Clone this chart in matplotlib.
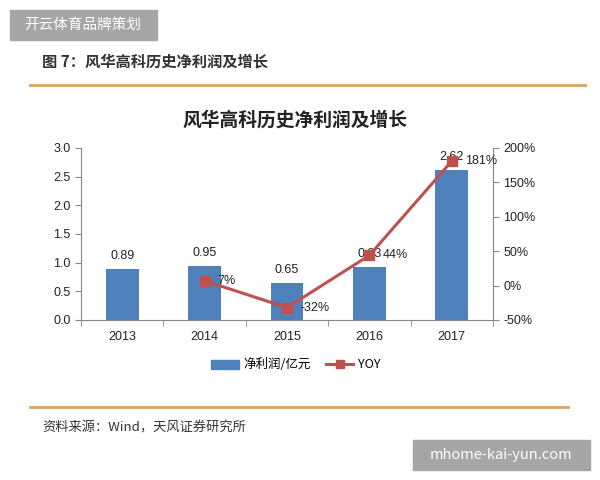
import numpy as np
import matplotlib
matplotlib.use("Agg")
import matplotlib.pyplot as plt
from matplotlib.patches import Rectangle
from matplotlib.lines import Line2D
from matplotlib.ticker import FuncFormatter

plt.rcParams['font.family'] = ['Noto Sans CJK SC', 'DejaVu Sans']

# 数据
years = ["2013", "2014", "2015", "2016", "2017"]
profit = [0.89, 0.95, 0.65, 0.93, 2.62]
yoy_years = ["2014", "2015", "2016", "2017"]
yoy = [7, -32, 44, 181]
yoy_labels = ["7%", "-32%", "44%", "181%"]

BAR = "#4F81BD"
LINE = "#C0504D"
ORANGE = "#D9A45F"
SPINE = "#868686"
TXT = "#222222"

fig = plt.figure(figsize=(6, 4.8), dpi=100)
fig.patch.set_facecolor("white")

# 顶部水印
fig.patches.append(Rectangle((10 / 600, 1 - 40 / 480), 147 / 600, 30 / 480,
                             transform=fig.transFigure, color="#A6A6A6", zorder=0))
fig.text(83 / 600, 1 - 25 / 480, "开云体育品牌策划", color="white", fontsize=10.5,
         ha="center", va="center")

# 标题和分割线
fig.text(42 / 600, 1 - 62 / 480, "图 7：风华高科历史净利润及增长", fontsize=11,
         fontweight="bold", color="#333333", va="center")
fig.add_artist(Line2D([30 / 600, 585 / 600], [1 - 85 / 480, 1 - 85 / 480],
                      transform=fig.transFigure, color=ORANGE, lw=2))
fig.add_artist(Line2D([30 / 600, 568 / 600], [1 - 407 / 480, 1 - 407 / 480],
                      transform=fig.transFigure, color=ORANGE, lw=2))
fig.text(42 / 600, 1 - 428 / 480, "资料来源：Wind，天风证券研究所", fontsize=9.5,
         color="#333333", va="center")

# 底部水印
fig.patches.append(Rectangle((413 / 600, 1 - 470 / 480), 177 / 600, 30 / 480,
                             transform=fig.transFigure, color="#A6A6A6", zorder=0))
fig.text(501 / 600, 1 - 455 / 480, "mhome-kai-yun.com", color="white", fontsize=10.5,
         ha="center", va="center")

# 图表
ax = fig.add_axes([81 / 600, 1 - 320 / 480, 412 / 600, 172 / 480])
x = np.arange(len(years))
ax.bar(x, profit, width=0.4, color=BAR, zorder=2)
for xi, v in zip(x, profit):
    ax.text(xi, v + 0.12, f"{v:.2f}", ha="center", va="bottom", fontsize=9, color=TXT,
            family="Liberation Sans", zorder=5)

ax.set_xlim(-0.5, len(years) - 0.5)
ax.set_ylim(0, 3.0)
ax.set_yticks(np.arange(0, 3.01, 0.5))
ax.yaxis.set_major_formatter(FuncFormatter(lambda v, p: f"{v:.1f}"))
ax.set_xticks(x)
ax.set_xticklabels(years)
ax.set_xticks(np.arange(-0.5, len(years), 1), minor=True)
ax.tick_params(axis="x", which="major", length=0, pad=8)
ax.tick_params(axis="x", which="minor", length=4, color=SPINE, direction="out")
ax.tick_params(axis="y", length=4, color=SPINE, direction="out")
for s in ["top", "right"]:
    ax.spines[s].set_visible(False)
for s in ["left", "bottom"]:
    ax.spines[s].set_color(SPINE)
for lab in ax.get_xticklabels() + ax.get_yticklabels():
    lab.set_fontsize(9)
    lab.set_family("Liberation Sans")
    lab.set_color(TXT)

ax2 = ax.twinx()
xy = [years.index(y) for y in yoy_years]
ax2.plot(xy, yoy, color=LINE, lw=2.2, marker="s", markersize=7, zorder=4)
for xi, v, lab in zip(xy, yoy, yoy_labels):
    ax2.text(xi + 0.16, v, lab, ha="left", va="center", fontsize=9, color=TXT,
             family="Liberation Sans", zorder=5)
ax2.set_ylim(-50, 200)
ax2.set_yticks(np.arange(-50, 201, 50))
ax2.yaxis.set_major_formatter(FuncFormatter(lambda v, p: f"{v:.0f}%"))
ax2.tick_params(axis="y", length=4, color=SPINE, direction="out")
for s in ["top", "left", "bottom"]:
    ax2.spines[s].set_visible(False)
ax2.spines["right"].set_color(SPINE)
for lab in ax2.get_yticklabels():
    lab.set_fontsize(9)
    lab.set_family("Liberation Sans")
    lab.set_color(TXT)

fig.text(295 / 600, 1 - 120 / 480, "风华高科历史净利润及增长", fontsize=13.5,
         fontweight="bold", color="#222222", ha="center", va="center")

# 图例
handles = [Rectangle((0, 0), 1, 1, color=BAR),
           Line2D([], [], color=LINE, lw=2.2, marker="s", markersize=6)]
fig.legend(handles, ["净利润/亿元", "YOY"], loc="center", ncol=2,
           bbox_to_anchor=(296 / 600, 1 - 365 / 480), frameon=False, fontsize=9,
           handlelength=2.2, columnspacing=1.2, handletextpad=0.4)

fig.savefig("out.png", dpi=100, facecolor="white")
